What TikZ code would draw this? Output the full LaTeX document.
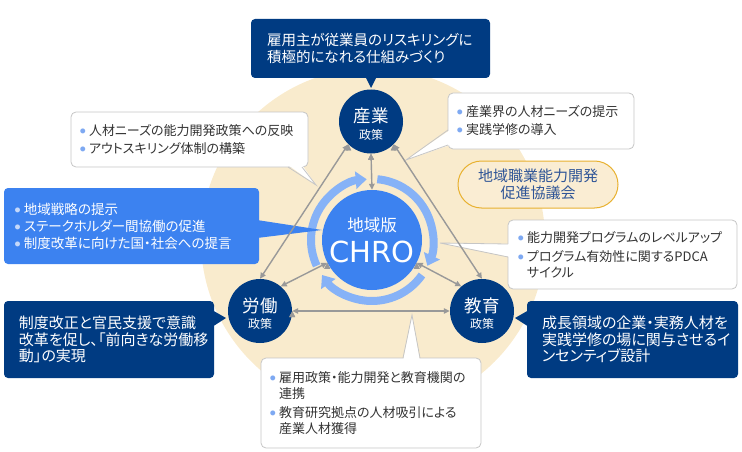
\documentclass[tikz,border=0pt]{standalone}
\usepackage{fontspec}
\setmainfont{Noto Sans CJK JP}[RawFeature=+palt]
\newfontfamily\latinfont{DejaVu Sans}
\usetikzlibrary{arrows.meta}
\definecolor{navy}{HTML}{003B82}
\definecolor{midblue}{HTML}{3C82F0}
\definecolor{ringblue}{HTML}{86B2F7}
\definecolor{beige}{HTML}{F9EBCD}
\definecolor{pillfill}{HTML}{FAEDD3}
\definecolor{pillline}{HTML}{E8B12F}
\definecolor{pilltext}{HTML}{2F5597}
\definecolor{arrowgray}{HTML}{999999}
\definecolor{boxline}{HTML}{C6C6C6}
\definecolor{bulc}{HTML}{7EA9F2}
\definecolor{bulpale}{HTML}{C5D8FA}
\definecolor{txt}{HTML}{333333}
\newcommand{\bul}[1]{\makebox[9pt][l]{\raisebox{2pt}{\fontsize{5.5}{5.5}\selectfont\color{#1}●}}}
\newcommand{\ind}{\hspace*{9pt}}
\newcommand{\policy}[1]{{\fontsize{17.5}{17.5}\selectfont\rule{0pt}{20pt}#1}\\政策}
\begin{document}
\begin{tikzpicture}[x=1pt,y=1pt,
  policy node/.style={circle,fill=navy,text=white,minimum size=64pt,inner sep=0pt,align=center,font=\fontsize{12}{16.5}\selectfont},
  dark box/.style={rectangle,rounded corners=4pt,fill=navy,text=white,align=left,inner ysep=2pt,font=\fontsize{15}{16.5}\selectfont},
  note box/.style={rectangle,rounded corners=5pt,fill=white,draw=boxline,line width=0.8pt,text=txt,align=left,inner ysep=2pt,font=\fontsize{13}{16}\selectfont},
  link/.style={arrowgray,line width=1.4pt,{Triangle[length=6pt,width=5.5pt]}-{Triangle[length=6pt,width=5.5pt]}},
  ring/.style={ringblue,line width=8pt,-{Triangle[length=11pt,width=17pt]}},
  tail line/.style={draw=boxline,line width=0.8pt}]
\useasboundingbox (0,0) rectangle (742,-452);
\fill[beige] (373,-240) circle (172);

% ring round the centre
\node[circle,fill=midblue,text=white,minimum size=100pt,inner sep=0pt,align=center,font=\fontsize{16.5}{31}\selectfont] (chro) at (372,-240) {地域版\\{\latinfont\fontsize{29}{29}\selectfont CHRO}};
\draw[ring] (chro.center) ++(205:61) arc[start angle=205,end angle=95,radius=61];
\draw[ring] (chro.center) ++(85:61) arc[start angle=85,end angle=-25,radius=61];
\draw[ring] (chro.center) ++(-35:61) arc[start angle=-35,end angle=-145,radius=61];

\begin{scope}
\node[policy node] (sangyo) at (371,-121.5) {\policy{産業}};
\node[policy node] (rodo) at (260,-311) {\policy{労働}};
\node[policy node] (kyoiku) at (482,-311) {\policy{教育}};
\end{scope}

\begin{scope}
\node[dark box,minimum height=59pt,inner xsep=16pt,text width=207pt,font=\fontsize{14.5}{17}\selectfont] (topbox) at (370.5,-48.5) {雇用主が従業員のリスキリングに\\積極的になれる仕組みづくり};
\fill[navy] (365,-76) -- (371,-88) -- (377,-76) -- cycle;
\node[dark box,minimum height=77pt,inner xsep=15pt,text width=180pt] (rodobox) at (109,-339.5) {制度改正と官民支援で意識\\改革を促し、「前向きな労働移\\動」の実現};
\fill[navy] (212,-310) -- (226,-318) -- (212,-327) -- cycle;
\node[dark box,minimum height=77pt,inner xsep=15pt,text width=181pt] (kyoikubox) at (632.5,-339.5) {成長領域の企業・実務人材を\\実践学修の場に関与させるイ\\ンセンティブ設計};
\fill[navy] (529,-310) -- (515,-318) -- (529,-327) -- cycle;
\node[rectangle,rounded corners=4pt,fill=midblue,text=white,align=left,minimum height=76pt,inner xsep=11pt,text width=233pt,font=\fontsize{13.5}{17}\selectfont] (chrobox) at (131.5,-226) {\bul{bulpale}地域戦略の提示\\\bul{bulpale}ステークホルダー間協働の促進\\\bul{bulpale}制度改革に向けた国・社会への提言};
\fill[midblue] (257,-220) -- (322,-230) -- (257,-238) -- cycle;
\node[rectangle,rounded corners=23.5pt,fill=pillfill,draw=pillline,line width=1pt,text=pilltext,align=center,minimum width=160pt,minimum height=47pt,font=\fontsize{15}{17}\selectfont] (council) at (538,-184.5) {地域職業能力開発\\促進協議会};
\end{scope}

\begin{scope}
\node[note box,minimum height=55pt,inner xsep=9pt,text width=219pt] (sangyonote) at (189.5,-139.5) {\bul{bulc}人材ニーズの能力開発政策への反映\\[2pt]\bul{bulc}アウトスキリング体制の構築};
\fill[white] (288,-165) -- (316,-185) -- (302,-165) -- cycle;
\draw[tail line] (288,-167) -- (316,-185) -- (302,-167);
\node[note box,minimum height=56pt,inner xsep=9pt,text width=168pt] (industrynote) at (541,-121) {\bul{bulc}産業界の人材ニーズの提示\\[2pt]\bul{bulc}実践学修の導入};
\fill[white] (450,-130) -- (406,-160) -- (450,-145) -- cycle;
\draw[tail line] (448,-130) -- (406,-160) -- (448,-145);
\node[note box,minimum height=69pt,inner xsep=10pt,text width=209pt] (programnote) at (622.5,-254.5) {\bul{bulc}能力開発プログラムのレベルアップ\\[3pt]\bul{bulc}プログラム有効性に関するPDCA\\\ind サイクル};
\fill[white] (510,-244) -- (440,-243) -- (510,-257) -- cycle;
\draw[tail line] (508,-244) -- (440,-243) -- (508,-257);
\node[note box,minimum height=90pt,inner xsep=9pt,text width=202pt] (linknote) at (371,-403) {\bul{bulc}雇用政策・能力開発と教育機関の\\\ind 連携\\[3pt]\bul{bulc}教育研究拠点の人材吸引による\\\ind 産業人材獲得};
\fill[white] (403,-361) -- (412,-315) -- (420,-361) -- cycle;
\draw[tail line] (403,-358) -- (412,-315) -- (420,-358);
\end{scope}

\begin{scope}[link]
\draw (sangyo.south) edge (chro.north);
\draw (sangyo.south west) edge (rodo.north);
\draw (sangyo.south east) edge (kyoiku.north);
\draw (rodo.east) edge (kyoiku.west);
\draw (chro.207) edge (rodo.50);
\draw (chro.-27) edge (kyoiku.130);
\end{scope}
\end{tikzpicture}
\end{document}
